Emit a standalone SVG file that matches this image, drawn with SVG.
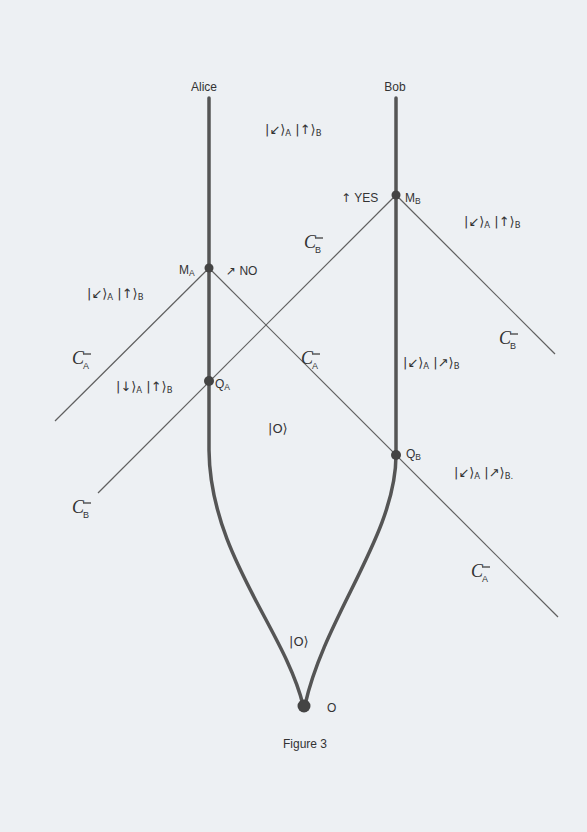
<svg xmlns="http://www.w3.org/2000/svg" width="587" height="832" viewBox="0 0 587 832">
<style>
.t{font-family:"Liberation Sans",Arial,sans-serif;font-size:12px;fill:#333}
.k{font-family:"DejaVu Sans","Liberation Sans",sans-serif;font-size:13px;fill:#333}
.a{font-family:"DejaVu Sans",sans-serif}
.s{font-size:8.5px}
.c{font-family:"Liberation Serif","Times New Roman",serif;font-style:italic;font-size:18px;fill:#333}
.cs{font-family:"Liberation Sans",Arial,sans-serif;font-size:9px;fill:#333}
.bar{stroke:#333;stroke-width:1.2}
.wl{fill:none;stroke:#555;stroke-width:3.5;stroke-linecap:round}
.lc{fill:none;stroke:#606060;stroke-width:1.2}
.dot{fill:#444}
</style>
<defs>
<g id="cA"><text class="c" x="0" y="0">C</text><text class="cs" x="11" y="5">A</text><line class="bar" x1="11" y1="-10" x2="19" y2="-10"/></g>
<g id="cB"><text class="c" x="0" y="0">C</text><text class="cs" x="11" y="5">B</text><line class="bar" x1="11" y1="-10" x2="19" y2="-10"/></g>
</defs>
<rect width="587" height="832" fill="#edf0f3"/>
<g id="connectors">
<line class="lc" x1="209" y1="268" x2="55" y2="421"/>
<line class="lc" x1="209" y1="268" x2="558" y2="617"/>
<line class="lc" x1="396" y1="195" x2="98" y2="493"/>
<line class="lc" x1="396" y1="195" x2="555" y2="354"/>
</g>
<g id="alice">
<path class="wl" d="M209,98 L209,450 C210,555 285,630 303,705"/>
<text class="t" x="204" y="91" text-anchor="middle" font-size="13">Alice</text>
</g>
<g id="bob">
<path class="wl" d="M396,98 L396,455 C396,535 325,615 305,705"/>
<text class="t" x="395" y="91" text-anchor="middle" font-size="13">Bob</text>
</g>
<g id="MA"><circle class="dot" cx="209" cy="268" r="4.5"/><text class="t" x="179" y="274">M<tspan class="s" dy="2">A</tspan></text></g>
<g id="QA"><circle class="dot" cx="209" cy="381" r="5"/><text class="t" x="215" y="388">Q<tspan class="s" dy="2">A</tspan></text></g>
<g id="MB"><circle class="dot" cx="396" cy="195" r="4.5"/><text class="t" x="405" y="202">M<tspan class="s" dy="2">B</tspan></text></g>
<g id="QB"><circle class="dot" cx="396" cy="455" r="5"/><text class="t" x="406" y="458">Q<tspan class="s" dy="2">B</tspan></text></g>
<g id="O"><circle class="dot" cx="304" cy="706" r="6.5"/><text class="t" x="327" y="712" font-size="14">O</text></g>
<g id="labels">
<text class="k" x="265" y="134">|↙⟩<tspan class="s" dy="2">A</tspan><tspan dy="-2"> |↑⟩</tspan><tspan class="s" dy="2">B</tspan></text>
<text class="t" x="341" y="202"><tspan class="a">↑</tspan> YES</text>
<text class="k" x="464" y="226">|↙⟩<tspan class="s" dy="2">A</tspan><tspan dy="-2"> |↑⟩</tspan><tspan class="s" dy="2">B</tspan></text>
<use href="#cB" x="304" y="248"/>
<text class="t" x="226" y="275"><tspan class="a">↗</tspan> NO</text>
<text class="k" x="87" y="298">|↙⟩<tspan class="s" dy="2">A</tspan><tspan dy="-2"> |↑⟩</tspan><tspan class="s" dy="2">B</tspan></text>
<use href="#cA" x="72" y="364"/>
<use href="#cA" x="301" y="364"/>
<text class="k" x="116" y="391">|↓⟩<tspan class="s" dy="2">A</tspan><tspan dy="-2"> |↑⟩</tspan><tspan class="s" dy="2">B</tspan></text>
<text class="k" x="403" y="367">|↙⟩<tspan class="s" dy="2">A</tspan><tspan dy="-2"> |↗⟩</tspan><tspan class="s" dy="2">B</tspan></text>
<use href="#cB" x="499" y="344"/>
<text class="k" x="268" y="433">|O⟩</text>
<text class="k" x="454" y="477">|↙⟩<tspan class="s" dy="2">A</tspan><tspan dy="-2"> |↗⟩</tspan><tspan class="s" dy="2">B.</tspan></text>
<use href="#cB" x="72" y="513"/>
<use href="#cA" x="471" y="577"/>
<text class="k" x="289" y="646">|O⟩</text>
<text class="t" x="305" y="748" text-anchor="middle" font-size="11">Figure 3</text>
</g>
</svg>
